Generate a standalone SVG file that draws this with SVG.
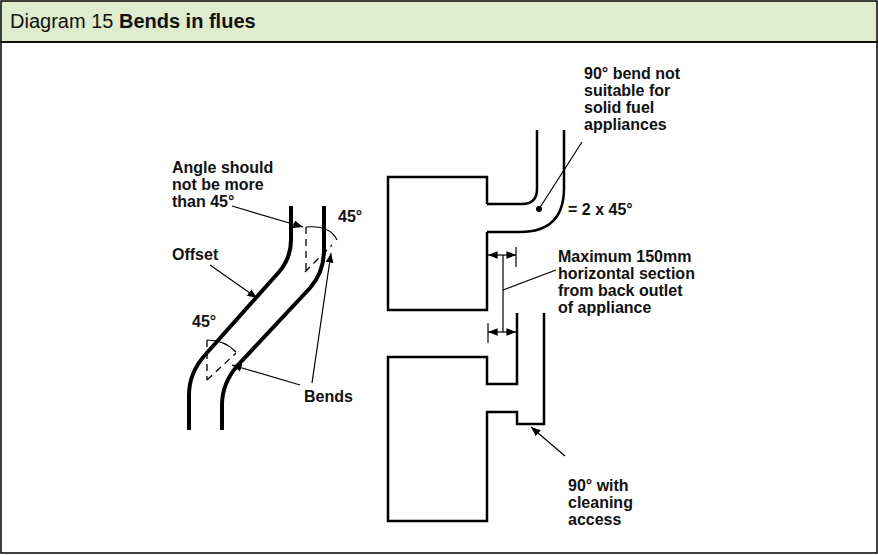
<svg xmlns="http://www.w3.org/2000/svg" width="878" height="555" viewBox="0 0 878 555">
<defs>
<style>
text{font-family:"Liberation Sans",Arial,sans-serif;font-size:16px;font-weight:bold;fill:#111}
.flue{fill:none;stroke:#000;stroke-width:4}
.thin{fill:none;stroke:#000;stroke-width:1.2}
.box{fill:none;stroke:#000;stroke-width:2.5}
.dash{fill:none;stroke:#000;stroke-width:1.3;stroke-dasharray:7,5}
</style>
<marker id="ah" viewBox="0 0 10 10" refX="10" refY="5" markerWidth="8" markerHeight="8" orient="auto-start-reverse"><path d="M0,1 L10,5 L0,9 z" fill="#000"/></marker>
</defs>
<rect x="0" y="0" width="878" height="555" fill="#fff"/>
<rect x="1" y="1" width="876" height="41" fill="#dfeccd" stroke="#000" stroke-width="1.5"/>
<rect x="1" y="42" width="876" height="511" fill="none" stroke="#000" stroke-width="1.5"/>
<text x="10" y="28" style="font-size:20px;font-weight:normal">Diagram 15  <tspan font-weight="bold">Bends in flues</tspan></text>

<g id="offset-flue">
<path class="flue" d="M291,206 L291,240 Q291,258 279,272 L205,355 Q189,373 189,395 L189,430"/>
<path class="flue" d="M324,206 L324,250 Q324,272 310,288 L238,365 Q222,383 222,405 L222,430"/>
<path class="dash" d="M306,227 L306,270 M305,272 L332,245 M207,340 L207,380 M207,380 L236,353"/>
<path class="thin" d="M306,227 Q330,225 337,240 M207,340 Q225,340 236,352"/>
</g>

<g id="appliance-top">
<path class="box" d="M487,204 L487,177 L388,177 L388,310 L487,310 L487,232"/>
<path class="box" d="M487,204 L522,204 Q537,204 537,189 L537,130"/>
<path class="box" d="M487,232 L520,232 Q564,232 564,188 L564,130"/>
<circle cx="539" cy="209" r="3" fill="#000"/>
</g>

<g id="appliance-bottom">
<path class="box" d="M517,313 L517,384 L487,384 L487,357 L388,357 L388,521 L487,521 L487,412 L517,412 L517,424 L544,424 L544,313"/>
</g>

<g id="connectors">
<line class="thin" x1="232" y1="206" x2="303" y2="227" marker-end="url(#ah)"/>
<line class="thin" x1="210" y1="265" x2="257" y2="298" marker-end="url(#ah)"/>
<line class="thin" x1="312" y1="383" x2="331" y2="253" marker-end="url(#ah)"/>
<line class="thin" x1="300" y1="385" x2="232" y2="365" marker-end="url(#ah)"/>
<line class="thin" x1="539" y1="209" x2="582" y2="142"/>
<line class="thin" x1="503" y1="255" x2="503" y2="332"/>
<line class="thin" x1="488" y1="255" x2="516" y2="255" marker-start="url(#ah)" marker-end="url(#ah)"/>
<line class="thin" x1="488" y1="332" x2="516" y2="332" marker-start="url(#ah)" marker-end="url(#ah)"/>
<line class="thin" x1="516" y1="247" x2="516" y2="267"/>
<line class="thin" x1="488" y1="323" x2="488" y2="343"/>
<line class="thin" x1="503" y1="290" x2="556" y2="270"/>
<line class="thin" x1="565" y1="456" x2="531" y2="427" marker-end="url(#ah)"/>
</g>

<g id="labels">
<text x="172" y="173">Angle should</text>
<text x="172" y="190">not be more</text>
<text x="172" y="207">than 45°</text>
<text x="338" y="222">45°</text>
<text x="172" y="260">Offset</text>
<text x="192" y="327">45°</text>
<text x="304" y="402">Bends</text>
<text x="584" y="79">90° bend not</text>
<text x="584" y="96">suitable for</text>
<text x="584" y="113">solid fuel</text>
<text x="584" y="130">appliances</text>
<text x="568" y="215">= 2 x 45°</text>
<text x="558" y="262">Maximum 150mm</text>
<text x="558" y="279">horizontal section</text>
<text x="558" y="296">from back outlet</text>
<text x="558" y="313">of appliance</text>
<text x="568" y="491">90° with</text>
<text x="568" y="508">cleaning</text>
<text x="568" y="525">access</text>
</g>
</svg>
